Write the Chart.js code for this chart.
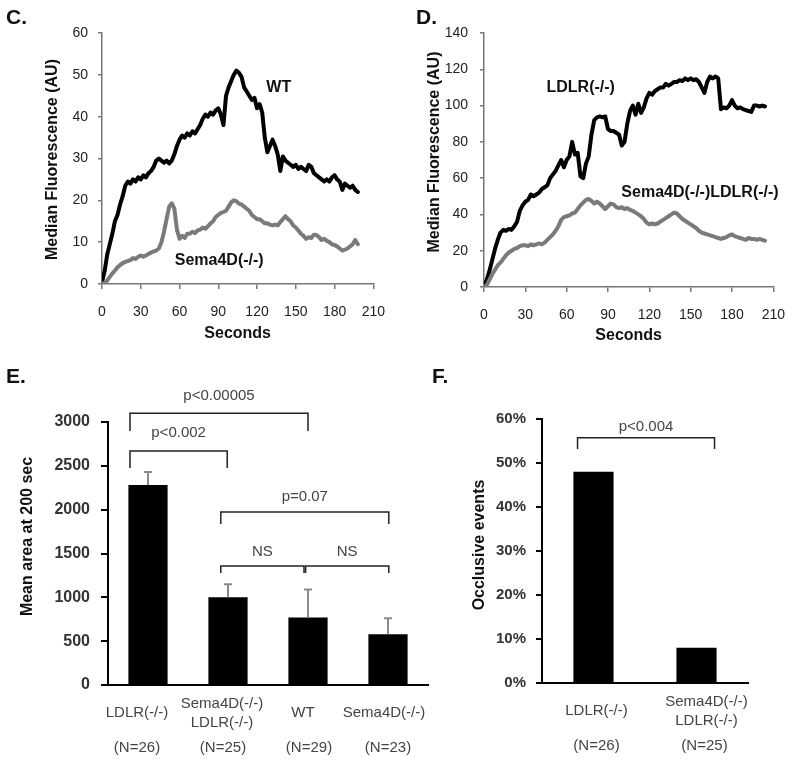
<!DOCTYPE html>
<html>
<head>
<meta charset="utf-8">
<script src="https://cdn.jsdelivr.net/npm/chart.js@4.4.1/dist/chart.umd.min.js"></script>
<style>
  body { margin: 0; background: #fff; }
  #page { position: relative; width: 800px; height: 761px; font-family: "Liberation Sans", Arial, sans-serif; }
  #page canvas { position: absolute; }
  .tag { position: absolute; font-weight: bold; font-size: 21px; color: #111; line-height: 1; }
</style>
</head>
<body>
<div id="page">
  <canvas id="chartC" width="400" height="345" style="left:0;top:0"></canvas>
  <canvas id="chartD" width="400" height="345" style="left:400px;top:0"></canvas>
  <canvas id="chartE" width="435" height="400" style="left:0;top:360px"></canvas>
  <canvas id="chartF" width="365" height="400" style="left:435px;top:360px"></canvas>
  <div class="tag" style="left:6px;top:6px">C.</div>
  <div class="tag" style="left:416px;top:6px">D.</div>
  <div class="tag" style="left:6px;top:365px">E.</div>
  <div class="tag" style="left:432px;top:365px">F.</div>
</div>
<script>
// panel C: median fluorescence over time
const secondsC = [0, 2, 4, 6, 8, 10, 12, 14, 16, 18, 20, 22, 24, 26, 28, 30, 32, 34, 36, 38,
  40, 42, 44, 46, 48, 50, 52, 54, 56, 58, 60, 62, 64, 66, 68, 70, 72, 74, 76, 78,
  80, 82, 84, 86, 88, 90, 92, 94, 96, 98, 100, 102, 104, 106, 108, 110, 112, 114, 116, 118,
  120, 122, 124, 126, 128, 130, 132, 134, 136, 138, 140, 142, 144, 146, 148, 150, 152, 154, 156, 158,
  160, 162, 164, 166, 168, 170, 172, 174, 176, 178, 180, 182, 184, 186, 188, 190, 192, 194, 196, 198];
const wtC = [0.5, 3, 7, 9.5, 12, 15, 16.5, 19, 21, 23.5,
  24.5, 24, 25, 24.5, 25.5, 25, 26, 25.5, 26.5, 27,
  28, 29.5, 30, 29.5, 29, 29.5, 28.8, 29.5, 31, 33,
  34.5, 35.5, 35, 36, 35.5, 36.5, 36, 37, 38, 39.5,
  40.5, 40, 41, 40.5, 41.5, 42, 40.5, 38, 45, 47,
  48.5, 50, 51, 50.5, 49.5, 47, 46, 45, 44, 44.5,
  42, 43, 41, 35, 31.5, 33, 34.5, 33, 31, 27,
  30.5, 29.5, 29, 28.5, 28, 28.5, 27.5, 28, 27.5, 27,
  28.5, 28, 26.5, 26, 25.5, 25, 24.5, 25, 24.5, 25.5,
  26, 25, 24.5, 22.5, 24, 23.5, 23, 23.5, 22.5, 22];
const sema4dC = [0, 0.3, 0.8, 1.7, 2.5, 3.2, 4, 4.5, 5, 5.3,
  5.5, 5.7, 6.2, 6, 6.5, 6.8, 6.5, 6.8, 7.2, 7.5,
  7.8, 8, 8.5, 10, 12.5, 15.5, 18.5, 19.3, 18, 13,
  10.8, 11.5, 11, 12, 12, 12.5, 12.2, 12.8, 13, 13.5,
  13.2, 13.8, 14.5, 15, 16, 16.5, 17, 17.2, 17.5, 18.5,
  19.5, 20, 19.8, 19.2, 19, 18.5, 18, 17.5, 16.5, 16,
  15.5, 15.5, 15, 14.5, 14.5, 14.2, 14, 14.2, 14, 14.8,
  15.5, 16.2, 15.5, 15, 14, 13.5, 12.8, 12, 11.5, 10.8,
  11.2, 11, 11.8, 11.7, 11.2, 10.5, 10.8, 10.3, 10, 9.5,
  9.3, 9, 8.5, 8, 8.2, 8.5, 9, 9.5, 10.5, 9.5];

// panel D
const secondsD = [0, 2, 4, 6, 8, 10, 12, 14, 16, 18, 20, 22, 24, 26, 28, 30, 32, 34, 36, 38,
  40, 42, 44, 46, 48, 50, 52, 54, 56, 58, 60, 62, 64, 66, 68, 70, 72, 74, 76, 78,
  80, 82, 84, 86, 88, 90, 92, 94, 96, 98, 100, 102, 104, 106, 108, 110, 112, 114, 116, 118,
  120, 122, 124, 126, 128, 130, 132, 134, 136, 138, 140, 142, 144, 146, 148, 150, 152, 154, 156, 158,
  160, 162, 164, 166, 168, 170, 172, 174, 176, 178, 180, 182, 184, 186, 188, 190, 192, 194, 196, 198,
  200, 202, 204];
const ldlrD = [0, 4, 9, 15, 21, 26, 30, 31.5, 31, 32, 31.5,
  33.5, 36, 42, 45, 47, 48, 51, 50, 51, 52,
  54, 55, 56, 60, 62, 64, 67, 70, 66, 70,
  72, 80, 73, 74, 61, 60, 68, 72, 84, 92,
  93.5, 94, 93.5, 94, 87, 86, 86, 85, 84, 78,
  80, 90, 97, 100, 95, 101, 96, 99, 104, 107,
  106, 108, 109, 110, 110, 112, 111, 112, 113, 113,
  114, 113.5, 115, 114, 115, 114, 114.5, 113, 110, 107,
  113, 116, 115, 116, 115, 98, 99, 98.5, 100, 103,
  100, 98.5, 99, 98, 97.5, 97, 96.5, 100, 100, 99.5,
  100, 99.5];
const sema4dLdlrD = [0, 1, 4, 7, 9.5, 12, 13.5, 15.5, 17.5, 19, 20,
  21, 21.5, 22.5, 23, 23, 22.5, 23.5, 23, 23.5, 24,
  23.5, 24.5, 26, 27.5, 29, 31, 33.5, 37, 38.5, 39,
  39.5, 40.5, 41, 43, 45, 46.5, 48, 48.5, 47.5, 46,
  47, 46, 44.5, 43, 44.5, 46, 45.5, 44, 43.5, 44,
  43, 43.5, 42.5, 42, 41, 40, 39, 37.5, 35.5, 34.5,
  35, 34.5, 35, 36, 37, 38, 39, 40, 41, 40.5,
  39, 37.5, 36.5, 35.5, 34.5, 33.5, 32.5, 31, 30, 29.5,
  29, 28.5, 28, 27.5, 27, 26.5, 27, 27.5, 28.5, 29,
  28, 27.5, 27, 26.5, 26, 27, 26.5, 26.5, 26, 26.5,
  26, 25.5];

// panel E: mean area at 200 sec
const groupsE = [["LDLR(-/-)"], ["Sema4D(-/-)", "LDLR(-/-)"], ["WT"], ["Sema4D(-/-)"]];
const countsE = ["(N=26)", "(N=25)", "(N=29)", "(N=23)"];
const meansE = [2280, 1000, 770, 580];
const upperE = [2430, 1150, 1090, 760];

// panel F: occlusive events
const groupsF = [["LDLR(-/-)"], ["Sema4D(-/-)", "LDLR(-/-)"]];
const countsF = ["(N=26)", "(N=25)"];
const occlusiveF = [48, 8];

// annotation placement (data units on each chart's axes)
const bracketsE = [
  { text: "p<0.00005", from: -0.225, to: 2.0, bar: 3099, leg: 2897, at: 3296 },
  { text: "p<0.002", from: -0.225, to: 0.99, bar: 2669, leg: 2475, at: 2874 },
  { text: "p=0.07", from: 0.91, to: 3.01, bar: 1973, leg: 1836, at: 2144 },
  { text: "NS", from: 0.91, to: 1.95, bar: 1357, leg: 1278, at: 1517 },
  { text: "NS", from: 1.97, to: 3.01, bar: 1357, leg: 1278, at: 1517 }
];
const bracketsF = [
  { text: "p<0.004", from: -0.155, to: 1.175, bar: 55.75, leg: 53.2, at: 58.2 }
];

const FONT = "'Liberation Sans', Arial, sans-serif";
Chart.defaults.font.family = FONT;

const extras = {
  id: "extras",
  afterDraw(chart, args, opts) {
    const { ctx } = chart;
    const xs = chart.scales.x;
    const ys = chart.scales.y;
    ctx.save();
    ctx.textAlign = "center";
    ctx.textBaseline = "middle";

    if (opts.yTitle) {
      const t = opts.yTitle;
      ctx.save();
      ctx.translate(t.x, (ys.top + ys.bottom) / 2 + t.dy);
      ctx.rotate(-Math.PI / 2);
      ctx.font = "bold 16px " + FONT;
      ctx.fillStyle = "#111";
      ctx.fillText(t.text, 0, 0);
      ctx.restore();
    }

    (opts.notes || []).forEach(n => {
      ctx.font = "bold 16px " + FONT;
      ctx.fillStyle = "#111";
      ctx.fillText(n.text, xs.getPixelForValue(n.x), ys.getPixelForValue(n.y));
    });

    if (opts.upper) {
      ctx.strokeStyle = "#8a8a8a";
      ctx.lineWidth = 2;
      opts.upper.forEach((v, i) => {
        const px = xs.getPixelForValue(i);
        const top = ys.getPixelForValue(v);
        const base = ys.getPixelForValue(opts.means[i]);
        ctx.beginPath();
        ctx.moveTo(px, base);
        ctx.lineTo(px, top);
        ctx.moveTo(px - 4, top);
        ctx.lineTo(px + 4, top);
        ctx.stroke();
      });
    }

    (opts.brackets || []).forEach(b => {
      const x1 = xs.getPixelForValue(b.from);
      const x2 = xs.getPixelForValue(b.to);
      const yb = ys.getPixelForValue(b.bar);
      const yl = ys.getPixelForValue(b.leg);
      ctx.strokeStyle = "#222";
      ctx.lineWidth = 1.5;
      ctx.beginPath();
      ctx.moveTo(x1, yl);
      ctx.lineTo(x1, yb);
      ctx.lineTo(x2, yb);
      ctx.lineTo(x2, yl);
      ctx.stroke();
      ctx.font = "15px " + FONT;
      ctx.fillStyle = "#444";
      ctx.fillText(b.text, (x1 + x2) / 2, ys.getPixelForValue(b.at));
    });

    if (opts.groups) {
      ctx.font = "15px " + FONT;
      ctx.fillStyle = "#444";
      const bottom = ys.bottom;
      opts.groups.forEach((lines, i) => {
        const px = xs.getPixelForValue(i);
        if (lines.length === 1) {
          ctx.fillText(lines[0], px + opts.shift[i], bottom + 28);
        } else {
          ctx.fillText(lines[0], px + opts.shift[i], bottom + 19);
          ctx.fillText(lines[1], px + opts.shift[i], bottom + 38);
        }
        ctx.fillText(opts.counts[i], px + opts.countShift[i], bottom + 63);
      });
    }
    ctx.restore();
  }
};

const points = (xs, ys) => xs.map((x, i) => ({ x, y: ys[i] }));

const lineChart = (id, cfg) => new Chart(document.getElementById(id), {
  type: "line",
  data: {
    datasets: [
      { data: points(cfg.seconds, cfg.lower), borderColor: "#7a7a7a" },
      { data: points(cfg.seconds, cfg.upper), borderColor: "#000" }
    ]
  },
  options: {
    responsive: false,
    animation: false,
    devicePixelRatio: 1,
    layout: { padding: { top: 33, right: cfg.right, left: 0, bottom: 0 } },
    elements: {
      point: { radius: 0 },
      line: { tension: 0, borderWidth: 4, borderJoinStyle: "round", borderCapStyle: "round" }
    },
    plugins: {
      legend: { display: false },
      tooltip: { enabled: false },
      extras: { yTitle: cfg.yTitle, notes: cfg.notes }
    },
    scales: {
      x: {
        type: "linear",
        min: 0,
        max: 210,
        ticks: { stepSize: 30, padding: 15, color: "#222", font: { size: 14 } },
        grid: { drawOnChartArea: false, tickLength: 5, color: "#777", lineWidth: 1.5 },
        border: { color: "#777", width: 1.5 },
        title: { display: true, text: "Seconds", color: "#111", font: { size: 16, weight: "bold" }, padding: { top: 0, bottom: cfg.titleGap } },
        afterFit: (s) => { s.height = cfg.xHeight; }
      },
      y: {
        min: 0,
        max: cfg.yMax,
        ticks: { stepSize: cfg.yStep, padding: cfg.yPad, color: "#222", font: { size: 14 } },
        grid: { drawOnChartArea: false, tickLength: 4, color: "#777", lineWidth: 1.5 },
        border: { color: "#777", width: 1.5 },
        afterFit: (s) => { s.width = cfg.yWidth; }
      }
    }
  },
  plugins: [extras]
});

lineChart("chartC", {
  seconds: secondsC, upper: wtC, lower: sema4dC,
  yMax: 60, yStep: 10, yPad: 10, yWidth: 102, right: 11, xHeight: 61, titleGap: 2,
  yTitle: { text: "Median Fluorescence (AU)", x: 53, dy: 1 },
  notes: [{ text: "WT", x: 136.8, y: 46.9 }, { text: "Sema4D(-/-)", x: 90.7, y: 5.7 }]
});

lineChart("chartD", {
  seconds: secondsD, upper: ldlrD, lower: sema4dLdlrD,
  yMax: 140, yStep: 20, yPad: 12, yWidth: 84, right: 20, xHeight: 58, titleGap: 0,
  yTitle: { text: "Median Fluorescence (AU)", x: 35, dy: -8 },
  notes: [{ text: "LDLR(-/-)", x: 70.2, y: 109.7 }, { text: "Sema4D(-/-)LDLR(-/-)", x: 156.8, y: 51.8 }]
});

const barChart = (id, cfg) => new Chart(document.getElementById(id), {
  type: "bar",
  data: {
    labels: cfg.groups.map(g => g.join(" ")),
    datasets: [{ data: cfg.values, backgroundColor: "#000", barPercentage: cfg.barPct, categoryPercentage: 1 }]
  },
  options: {
    responsive: false,
    animation: false,
    devicePixelRatio: 1,
    layout: { padding: { top: cfg.top, right: cfg.right, left: 0, bottom: 0 } },
    plugins: {
      legend: { display: false },
      tooltip: { enabled: false },
      extras: cfg.extras
    },
    scales: {
      x: {
        ticks: { display: false },
        grid: { display: false },
        border: { color: "#000", width: 2 },
        afterFit: (s) => { s.height = cfg.xHeight; }
      },
      y: {
        min: 0,
        max: cfg.yMax,
        ticks: {
          stepSize: cfg.yStep,
          padding: cfg.yPad,
          color: "#333",
          font: { size: cfg.tickSize, weight: "bold" },
          callback: cfg.tickFormat
        },
        grid: { drawOnChartArea: false, tickLength: cfg.tickLen, color: "#000", lineWidth: 2 },
        border: { color: "#000", width: 2 },
        afterFit: (s) => { s.width = cfg.yWidth; }
      }
    }
  },
  plugins: [extras]
});

barChart("chartE", {
  groups: groupsE, values: meansE, barPct: 0.49,
  top: 62, right: 7, xHeight: 75, yWidth: 108,
  yMax: 3000, yStep: 500, yPad: 11, tickLen: 7, tickSize: 16,
  tickFormat: (v) => v,
  extras: {
    yTitle: { text: "Mean area at 200 sec", x: 28, dy: -17 },
    means: meansE, upper: upperE, brackets: bracketsE,
    groups: groupsE, counts: countsE, shift: [-11, -6, -5, -4], countShift: [-11, -5, 1, 0]
  }
});

barChart("chartF", {
  groups: groupsF, values: occlusiveF, barPct: 0.39,
  top: 59, right: 52, xHeight: 77, yWidth: 107,
  yMax: 60, yStep: 10, yPad: 10, tickLen: 6, tickSize: 15,
  tickFormat: (v) => v + "%",
  extras: {
    yTitle: { text: "Occlusive events", x: 45, dy: -6 },
    brackets: bracketsF,
    groups: groupsF, counts: countsF, shift: [3, 10], countShift: [3, 8]
  }
});
</script>
</body>
</html>
